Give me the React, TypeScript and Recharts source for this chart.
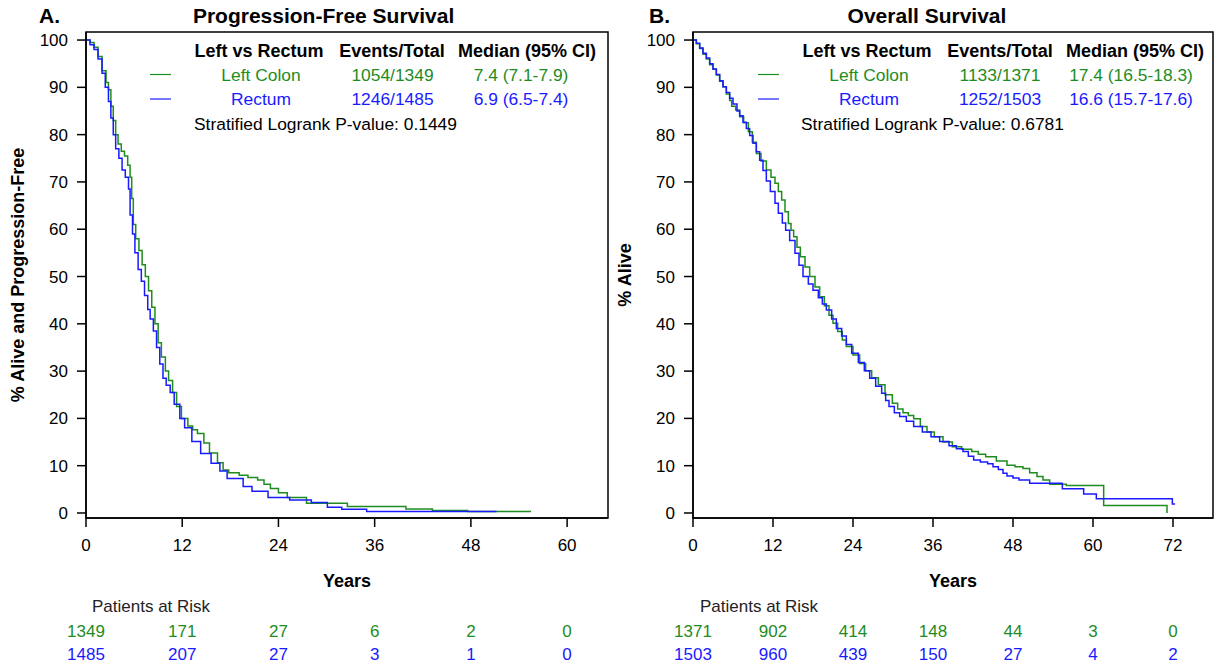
import React from 'react';
import { LineChart, Line, XAxis, YAxis, ReferenceArea } from 'recharts';

const GREEN = '#1e8c1e';
const BLUE = '#1a1aff';
const FONT = '"Liberation Sans", Arial, sans-serif';

// ---------- Panel A: Progression-Free Survival ----------
const pfsLeftMonths = [0, 0.5, 1.0, 1.5, 2.0, 2.5, 2.8, 3.1, 3.4, 3.7, 4.0, 4.4, 4.8, 5.2, 5.5, 5.7, 5.9, 6.2, 6.6, 7.0, 7.4, 7.8, 8.2, 8.6, 9.0, 9.4, 9.9, 10.3, 10.8, 11.3, 11.9, 12.7, 13.3, 13.9, 14.7, 15.4, 16.4, 17.1, 17.8, 19.1, 20.2, 21.4, 22.2, 23.0, 24.0, 25.1, 27.5, 32.6, 39.9, 43.2, 47.6, 55.5];
const pfsLeftPct = [100, 99.5, 98.5, 96.5, 93.5, 91, 89.5, 86, 83, 80, 78, 76.5, 75.5, 73.5, 71, 66.5, 61, 58, 55.5, 52.5, 50, 47, 43.5, 40, 36, 33, 30, 28, 25.5, 22.5, 20, 18.4, 17.6, 16.8, 14.8, 12.7, 10.6, 9.1, 8.5, 8.0, 7.5, 7.0, 6.1, 5.2, 4.3, 3.3, 2.05, 1.35, 0.85, 0.5, 0.3, 0.3];
const pfsRectumMonths = [0, 0.5, 1.0, 1.5, 2.0, 2.4, 2.8, 3.1, 3.4, 3.7, 4.1, 4.5, 4.9, 5.3, 5.5, 5.8, 6.1, 6.5, 6.9, 7.3, 7.7, 8.0, 8.4, 8.8, 9.2, 9.6, 10.0, 10.5, 11.0, 11.7, 12.3, 13.2, 14.3, 15.6, 16.7, 17.6, 19.6, 20.7, 22.7, 25.4, 28.1, 30.1, 31.9, 35.0, 51.2];
const pfsRectumPct = [100, 99, 98, 96, 93, 90, 87, 83.5, 80, 77, 75, 72.5, 71, 68.5, 63, 59, 55, 51.5, 49, 46, 43, 41, 38.5, 35, 31.5, 28.5, 27, 25.5, 23, 20, 18, 15.1, 12.6, 10.5, 8.9, 7.3, 5.6, 4.6, 3.3, 2.75, 2.2, 1.2, 0.8, 0.3, 0.3];
const pfsTicks = [0, 12, 24, 36, 48, 60];
const pfsRiskLeft = [1349, 171, 27, 6, 2, 0];
const pfsRiskRectum = [1485, 207, 27, 3, 1, 0];

// ---------- Panel B: Overall Survival ----------
const osLeftMonths = [0, 0.5, 1.0, 1.5, 2.0, 2.5, 3.0, 3.5, 4.0, 4.5, 5.0, 5.5, 5.8, 6.4, 7.0, 7.6, 8.3, 8.9, 9.5, 10.2, 11.0, 11.7, 12.3, 12.8, 13.3, 13.8, 14.3, 14.7, 15.1, 15.6, 16.1, 16.8, 17.5, 18.3, 19.0, 19.7, 20.4, 21.0, 21.7, 22.4, 23.0, 24.0, 25.0, 25.9, 26.8, 27.8, 28.8, 29.9, 30.7, 31.5, 32.3, 33.1, 34.1, 35.1, 36.2, 37.5, 38.9, 40.3, 41.8, 42.8, 43.9, 45.5, 47.1, 48.3, 49.5, 50.5, 51.6, 52.5, 53.5, 56.0, 61.6, 71.1];
const osLeftPct = [100, 99.2, 98.2, 97.0, 96.0, 94.8, 93.8, 92.6, 91.3, 90.1, 88.6, 87.2, 86.0, 85.2, 83.8, 82.5, 80.6, 78.4, 76.0, 74.4, 72.5, 71.0, 69.7, 68.0, 66.2, 63.7, 61.2, 59.8, 58.4, 56.2, 54.2, 52.0, 50.0, 47.8, 45.7, 43.8, 41.8, 40.1, 38.4, 36.6, 35.2, 33.4, 31.6, 30.1, 28.6, 27.1, 25.0, 23.2, 22.0, 21.2, 20.6, 19.9, 18.3, 17.1, 16.1, 15.0, 14.0, 13.5, 13.0, 12.4, 11.9, 11.0, 10.1, 9.8, 9.4, 8.5, 7.7, 7.0, 6.1, 5.8, 1.6, 0];
const osRectumMonths = [0, 0.5, 1.0, 1.5, 2.0, 2.5, 3.0, 3.5, 4.0, 4.5, 5.0, 5.5, 6.0, 6.6, 7.0, 7.5, 8.0, 8.5, 9.0, 9.5, 10.0, 10.5, 11.0, 11.6, 12.3, 12.8, 13.4, 13.9, 14.5, 15.3, 15.9, 16.5, 17.3, 18.0, 18.8, 19.4, 20.0, 20.8, 21.5, 22.3, 23.0, 23.8, 24.8, 25.7, 26.5, 27.4, 28.3, 28.9, 29.4, 30.2, 31.0, 32.0, 33.1, 34.4, 35.7, 37.0, 38.4, 39.5, 40.5, 41.3, 42.1, 43.1, 44.2, 45.0, 45.8, 46.5, 47.1, 48.0, 48.9, 50.5, 55.4, 58.6, 60.5, 71.9, 72.3];
const osRectumPct = [100, 99.3, 98.3, 97.2, 96.2, 95.0, 93.9, 92.7, 91.4, 90.1, 88.9, 87.7, 86.5, 85.0, 84.0, 82.6, 81.3, 79.8, 78.2, 76.4, 74.6, 72.4, 70.2, 68.0, 65.5, 63.4, 61.3, 59.8, 57.6, 54.9, 52.4, 50.0, 48.4, 47.1, 45.5, 44.2, 42.9, 41.0, 39.0, 37.4, 35.6, 33.8, 31.8, 30.1, 28.5, 26.8, 25.3, 23.8, 22.5, 21.2, 20.4, 19.4, 18.3, 17.1, 16.1, 15.1, 14.2, 13.6, 13.0, 12.0, 11.2, 10.8, 10.4, 9.8, 9.2, 8.4, 7.8, 7.4, 7.0, 6.3, 5.1, 4.0, 3.0, 1.9, 1.9];
const osTicks = [0, 12, 24, 36, 48, 60, 72];
const osRiskLeft = [1371, 902, 414, 148, 44, 3, 0];
const osRiskRectum = [1503, 960, 439, 150, 27, 4, 2];

const yTicks = [0, 10, 20, 30, 40, 50, 60, 70, 80, 90, 100];
const Y_DOMAIN: [number, number] = [-1.06, 101.7];

const zip = (t: number[], s: number[]) => t.map((x, i) => ({ t: x, s: s[i] }));

const makeTick = (ticks: number[], riskA: number[], riskB: number[]) => (props: any) => {
  const { x, y, payload } = props;
  const i = ticks.indexOf(payload.value);
  return (
    <g fontFamily={FONT} fontSize={17}>
      <text x={x} y={y + 12} textAnchor="middle" fill="#000">{payload.value}</text>
      <text x={x} y={y + 98} textAnchor="middle" fill={GREEN}>{riskA[i]}</text>
      <text x={x} y={y + 121} textAnchor="middle" fill={BLUE}>{riskB[i]}</text>
    </g>
  );
};

const YTick = (props: any) => {
  const { x, y, payload } = props;
  return (
    <text x={x} y={y} dy={6} textAnchor="end" fontFamily={FONT} fontSize={17} fill="#000">
      {payload.value}
    </text>
  );
};

type PanelProps = {
  left: number;
  width: number;
  plotLeft: number;
  plotRight: number;
  xMax: number;
  ticks: number[];
  a: { t: number; s: number }[];
  b: { t: number; s: number }[];
  riskA: number[];
  riskB: number[];
};

function Panel({ left, width, plotLeft, plotRight, xMax, ticks, a, b, riskA, riskB }: PanelProps) {
  return (
    <div style={{ position: 'absolute', left, top: 0 }}>
      <LineChart
        width={width}
        height={668}
        margin={{ top: 32, right: width - plotRight, bottom: 668 - 518 - 30, left: 0 }}
      >
        <XAxis
          dataKey="t"
          type="number"
          domain={[0, xMax]}
          ticks={ticks}
          height={30}
          tickSize={9}
          tickMargin={12}
          stroke="#000"
          strokeWidth={1.5}
          tick={makeTick(ticks, riskA, riskB)}
          interval={0}
        />
        <YAxis
          type="number"
          domain={Y_DOMAIN}
          ticks={yTicks}
          width={plotLeft}
          tickSize={9}
          tickMargin={9}
          stroke="#000"
          strokeWidth={1.5}
          tick={<YTick />}
          interval={0}
        />
        <ReferenceArea x1={0} x2={xMax} y1={Y_DOMAIN[0]} y2={Y_DOMAIN[1]} fill="none" stroke="#000" strokeWidth={1.5} />
        <Line data={a} dataKey="s" type="stepAfter" stroke={GREEN} strokeWidth={1.5} dot={false} isAnimationActive={false} />
        <Line data={b} dataKey="s" type="stepAfter" stroke={BLUE} strokeWidth={1.5} dot={false} isAnimationActive={false} />
      </LineChart>
    </div>
  );
}

type LegendProps = {
  lineX: number;
  c1: number; c2: number; c3: number;
  h1: number; h2: number; h3: number;
  rows: string[][];
  pText: string;
  pX: number;
};

function Legend({ lineX, c1, c2, c3, h1, h2, h3, rows, pText, pX }: LegendProps) {
  const colors = [GREEN, BLUE];
  const ys = [80.5, 105];
  return (
    <g fontFamily={FONT}>
      <g fontSize={18} fontWeight="bold" fill="#000" textAnchor="middle">
        <text x={h1} y={56.5}>Left vs Rectum</text>
        <text x={h2} y={56.5}>Events/Total</text>
        <text x={h3} y={56.5}>Median (95% CI)</text>
      </g>
      {rows.map((r, i) => (
        <g key={i} fontSize={17.4} fill={colors[i]} textAnchor="middle">
          <line x1={lineX} x2={lineX + 21} y1={ys[i] - 6} y2={ys[i] - 6} stroke={colors[i]} strokeWidth={1.2} />
          <text x={c1} y={ys[i]}>{r[0]}</text>
          <text x={c2} y={ys[i]}>{r[1]}</text>
          <text x={c3} y={ys[i]}>{r[2]}</text>
        </g>
      ))}
      <text x={pX} y={130} fontSize={17.4} fill="#000">{pText}</text>
    </g>
  );
}

export default function App() {
  return (
    <div style={{ position: 'absolute', left: 0, top: 0, width: 1221, height: 668, background: '#fff', fontFamily: FONT }}>
      <Panel
        left={0}
        width={610}
        plotLeft={86}
        plotRight={608}
        xMax={65.1}
        ticks={pfsTicks}
        a={zip(pfsLeftMonths, pfsLeftPct)}
        b={zip(pfsRectumMonths, pfsRectumPct)}
        riskA={pfsRiskLeft}
        riskB={pfsRiskRectum}
      />
      <Panel
        left={610}
        width={611}
        plotLeft={83}
        plotRight={603}
        xMax={78}
        ticks={osTicks}
        a={zip(osLeftMonths, osLeftPct)}
        b={zip(osRectumMonths, osRectumPct)}
        riskA={osRiskLeft}
        riskB={osRiskRectum}
      />
      <svg width={1221} height={668} style={{ position: 'absolute', left: 0, top: 0, pointerEvents: 'none' }}>
        <g fontFamily={FONT} fontWeight="bold" fill="#000">
          <text x={39} y={22.5} fontSize={21}>A.</text>
          <text x={323.6} y={22.5} fontSize={21} textAnchor="middle">Progression-Free Survival</text>
          <text x={649} y={22.5} fontSize={21}>B.</text>
          <text x={927} y={22.5} fontSize={21} textAnchor="middle">Overall Survival</text>
          <text x={347} y={586.5} fontSize={18} textAnchor="middle">Years</text>
          <text x={953} y={586.5} fontSize={18} textAnchor="middle">Years</text>
          <text x={0} y={0} fontSize={18} textAnchor="middle" transform="translate(24,275) rotate(-90)">% Alive and Progression-Free</text>
          <text x={0} y={0} fontSize={18} textAnchor="middle" transform="translate(631,275) rotate(-90)">% Alive</text>
        </g>
        <g fontFamily={FONT} fontSize={17} fill="#222">
          <text x={92} y={612}>Patients at Risk</text>
          <text x={700} y={612}>Patients at Risk</text>
        </g>
        <Legend
          lineX={150}
          c1={261} c2={392.5} c3={521}
          h1={259} h2={392} h3={527}
          rows={[["Left Colon", "1054/1349", "7.4 (7.1-7.9)"], ["Rectum", "1246/1485", "6.9 (6.5-7.4)"]]}
          pText="Stratified Logrank P-value: 0.1449"
          pX={194}
        />
        <Legend
          lineX={758}
          c1={869} c2={1000} c3={1131}
          h1={867} h2={1000} h3={1135}
          rows={[["Left Colon", "1133/1371", "17.4 (16.5-18.3)"], ["Rectum", "1252/1503", "16.6 (15.7-17.6)"]]}
          pText="Stratified Logrank P-value: 0.6781"
          pX={801}
        />
      </svg>
    </div>
  );
}
